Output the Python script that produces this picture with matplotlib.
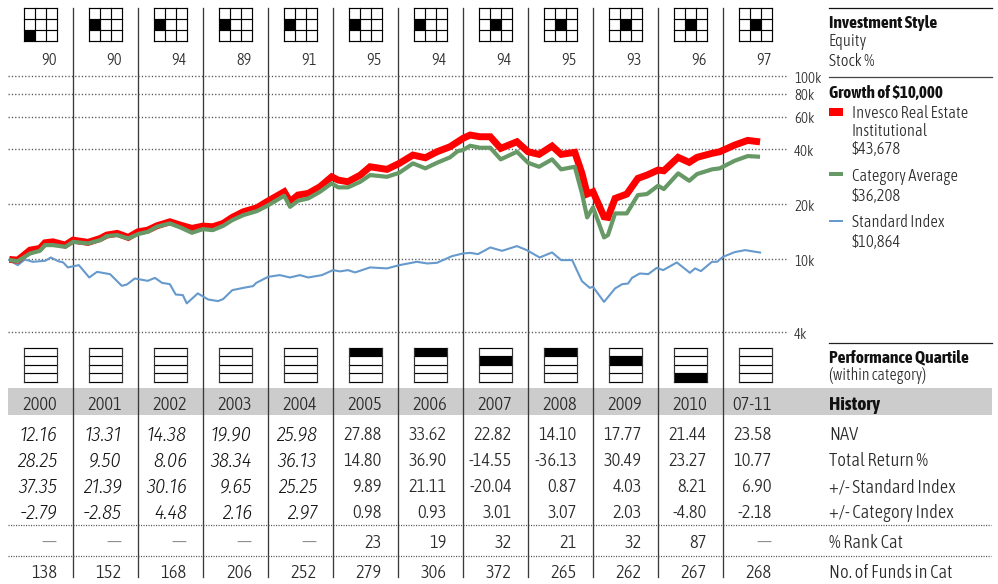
import matplotlib
matplotlib.use('Agg')
import matplotlib.pyplot as plt
from matplotlib.patches import Rectangle
from matplotlib.transforms import ScaledTranslation

plt.rcParams['font.family'] = ['Asap Condensed', 'Liberation Sans', 'DejaVu Sans']

W, H = 998, 584

###############################
### growth of $10,000

fund_dates = [2000.02, 2000.15, 2000.34, 2000.49, 2000.57, 2000.69, 2000.88, 2001.0, 2001.23, 2001.42,
	2001.52, 2001.68, 2001.85, 2002.0, 2002.15, 2002.29, 2002.49, 2002.65, 2002.83, 2003.0,
	2003.15, 2003.31, 2003.45, 2003.62, 2003.83, 2003.98, 2004.25, 2004.34, 2004.46, 2004.62,
	2004.8, 2004.98, 2005.08, 2005.23, 2005.42, 2005.57, 2005.83, 2006.02, 2006.23, 2006.42,
	2006.6, 2006.8, 2006.92, 2007.0, 2007.11, 2007.26, 2007.42, 2007.58, 2007.83, 2008.0,
	2008.17, 2008.37, 2008.51, 2008.72, 2008.83, 2008.91, 2009.0, 2009.17, 2009.23, 2009.34,
	2009.52, 2009.69, 2009.83, 2010.0, 2010.09, 2010.31, 2010.48, 2010.6, 2010.83, 2010.95,
	2011.18, 2011.38, 2011.57]

fund_growth = [9960, 9875, 11200, 11440, 12280, 12430, 11930, 12700, 12340, 12970,
	13530, 13820, 13140, 14100, 14400, 15200, 15990, 15340, 14720, 15150,
	15020, 15670, 16900, 18130, 19070, 20560, 23320, 20560, 22370, 22860,
	24840, 28160, 27020, 26450, 28770, 31940, 30910, 33340, 37000, 35770,
	38580, 41080, 43750, 45660, 47600, 46590, 46590, 40260, 43750, 38580,
	37330, 41440, 37330, 38290, 29400, 22660, 23320, 17030, 16900, 21460,
	22660, 27600, 28770, 30640, 30380, 35950, 33760, 35950, 37810, 38580,
	41970, 44500, 43678]

category_growth = [9875, 9750, 10740, 11100, 11930, 11930, 11670, 12430, 12180, 12700,
	13350, 13530, 12970, 13700, 14100, 15020, 15670, 14900, 13930, 14580,
	14400, 15200, 16330, 17390, 18300, 19480, 22180, 19300, 20820, 21460,
	23320, 25920, 24650, 24650, 26450, 28770, 28160, 29620, 33340, 31310,
	33590, 35950, 38920, 39410, 41600, 40570, 40570, 35060, 38580, 33590,
	31940, 35060, 30910, 31940, 22860, 16900, 19160, 13140, 13530, 17770,
	17770, 22370, 22660, 25150, 24130, 29400, 26780, 29140, 30910, 31310,
	34450, 36540, 36208]

index_dates = [2000.02, 2000.15, 2000.26, 2000.38, 2000.57, 2000.66, 2000.77, 2000.85, 2000.92, 2001.09,
	2001.25, 2001.37, 2001.57, 2001.75, 2001.83, 2001.95, 2002.15, 2002.26, 2002.37, 2002.49,
	2002.58, 2002.69, 2002.75, 2002.92, 2003.08, 2003.23, 2003.31, 2003.45, 2003.65, 2003.77,
	2003.82, 2004.0, 2004.18, 2004.34, 2004.49, 2004.62, 2004.83, 2005.0, 2005.11, 2005.23,
	2005.34, 2005.57, 2005.83, 2006.02, 2006.29, 2006.45, 2006.6, 2006.83, 2007.0, 2007.11,
	2007.23, 2007.42, 2007.6, 2007.83, 2007.98, 2008.18, 2008.37, 2008.51, 2008.68, 2008.83,
	2008.95, 2009.0, 2009.17, 2009.34, 2009.45, 2009.54, 2009.6, 2009.72, 2009.85, 2009.98,
	2010.08, 2010.29, 2010.49, 2010.57, 2010.66, 2010.83, 2010.91, 2011.0, 2011.18, 2011.34,
	2011.57]

index_growth = [9875, 9270, 9960, 9670, 9790, 10210, 9750, 9590, 9010, 9270,
	7940, 8520, 8280, 7150, 7270, 7840, 7610, 7900, 7420, 7300,
	6410, 6360, 5730, 6500, 6020, 5900, 6050, 6770, 7000, 7120,
	7420, 8000, 8180, 7940, 8180, 7940, 8180, 8710, 8570, 8710,
	8460, 9010, 8900, 9270, 9670, 9470, 9550, 10380, 10740, 10820,
	10650, 11580, 11100, 11780, 11200, 10210, 10880, 9875, 9875, 7580,
	6970, 7060, 5840, 6920, 7300, 7360, 7900, 8350, 8280, 8960,
	8710, 9590, 8420, 8900, 8600, 9670, 9670, 10290, 10920, 11200,
	10864]

grid_values = [100000, 80000, 60000, 40000, 20000, 10000, 4000]
grid_labels = ['100k', '80k', '60k', '40k', '20k', '10k', '4k']

###############################
### style box, quartile box and history table

style_cells = [(2, 0), (1, 0), (1, 0), (1, 0), (1, 0), (1, 0), (1, 0), (1, 1), (1, 1), (1, 1), (1, 1), (1, 1)]
stock_pct = ['90', '90', '94', '89', '91', '95', '94', '94', '95', '93', '96', '97']
quartiles = [None, None, None, None, None, 0, 0, 1, 0, 1, 3, None]

years = ['2000', '2001', '2002', '2003', '2004', '2005', '2006', '2007', '2008', '2009', '2010', '07-11']
nav = ['12.16', '13.31', '14.38', '19.90', '25.98', '27.88', '33.62', '22.82', '14.10', '17.77', '21.44', '23.58']
total_return = ['28.25', '9.50', '8.06', '38.34', '36.13', '14.80', '36.90', '-14.55', '-36.13', '30.49', '23.27', '10.77']
vs_standard = ['37.35', '21.39', '30.16', '9.65', '25.25', '9.89', '21.11', '-20.04', '0.87', '4.03', '8.21', '6.90']
vs_category = ['-2.79', '-2.85', '4.48', '2.16', '2.97', '0.98', '0.93', '3.01', '3.07', '2.03', '-4.80', '-2.18']
rank_cat = ['—', '—', '—', '—', '—', '23', '19', '32', '21', '32', '87', '—']
funds_in_cat = ['138', '152', '168', '206', '252', '279', '306', '372', '265', '262', '267', '268']

# rows in the table: values, center y, label, years shown in italics
table_rows = [
	(nav, 433.2, 'NAV', 5),
	(total_return, 459.2, 'Total Return %', 5),
	(vs_standard, 485.2, '+/- Standard Index', 5),
	(vs_category, 511.2, '+/- Category Index', 5),
	(rank_cat, 540.8, '% Rank Cat', 0),
	(funds_in_cat, 570.8, 'No. of Funds in Cat', 0),
]

###############################
### colors and column layout

RED = '#ff0000'
GREEN = '#669966'
BLUE = '#6699cc'
TEXT = '#2a2a2a'
COL_STEP = 65
COL_RIGHT = 57
BOX_LEFT = 24
BOX_SIZE = 33.5
LABEL_X = 829

fig = plt.figure(figsize=(W / 100, H / 100), dpi=100, facecolor='white')

# page axes in pixel units, everything outside the growth plot goes here
page = fig.add_axes([0, 0, 1, 1], zorder=0)
page.set_xlim(0, W)
page.set_ylim(H, 0)
page.axis('off')

def txt(x, y, s, size=13.4, ha='left', **kw):
	kw.setdefault('color', TEXT)
	kw.setdefault('weight', 300)
	page.text(x, y, s, fontsize=size, ha=ha, va='center_baseline', **kw)

def draw_style_box(i):
	left = BOX_LEFT + i * COL_STEP
	top = 7.5
	cell = BOX_SIZE / 3
	row, col = style_cells[i]
	page.add_patch(Rectangle((left + col * cell, top + row * cell), cell, cell, fc='black', ec='none'))
	for k in range(4):
		page.plot([left, left + BOX_SIZE], [top + k * cell] * 2, color='black', lw=0.85, solid_capstyle='projecting')
		page.plot([left + k * cell] * 2, [top, top + BOX_SIZE], color='black', lw=0.85, solid_capstyle='projecting')

def draw_quartile_box(i):
	left = BOX_LEFT + i * COL_STEP
	top = 348
	cell = BOX_SIZE / 4
	if quartiles[i] is not None:
		page.add_patch(Rectangle((left, top + quartiles[i] * cell), BOX_SIZE, cell, fc='black', ec='none'))
	for k in range(5):
		page.plot([left, left + BOX_SIZE], [top + k * cell] * 2, color='black', lw=0.85, solid_capstyle='projecting')
	for x in [left, left + BOX_SIZE]:
		page.plot([x, x], [top, top + BOX_SIZE], color='#333333', lw=0.85)

# history band and the year dividers
page.add_patch(Rectangle((8, 388.3), 984, 26.7, fc='#cccccc', ec='none', zorder=0))
for i in range(1, 12):
	x = 8 + i * COL_STEP
	page.plot([x, x], [8, 577], color='#3a3a3a', lw=0.95, zorder=1)

for i in range(12):
	right = COL_RIGHT + i * COL_STEP
	draw_style_box(i)
	draw_quartile_box(i)
	txt(right, 58.3, stock_pct[i], size=11.8, ha='right')
	txt(right, 402.8, years[i], ha='right')
	for values, y, label, italic_upto in table_rows:
		color = '#888888' if values[i] == '—' else TEXT
		if i < italic_upto:
			# light italic comes from another condensed family
			txt(right, y, values[i], size=14.6, ha='right', style='italic', color='#111111', weight=300,
				family=['Fira Sans Condensed', 'Liberation Sans'])
		else:
			txt(right, y, values[i], ha='right', color=color)

for y in [525, 555.7]:
	page.plot([8, 991], [y, y], color='#555555', lw=0.9, dashes=(0.9, 1.1))

###############################
### right hand column

for y, color in [(7.5, '#111111'), (77, '#444444'), (342.5, '#222222')]:
	page.plot([829, 992], [y, y], color=color, lw=0.9)

txt(LABEL_X, 21.3, 'Investment Style', size=12.6, weight='bold', color='#111111')
txt(LABEL_X, 39.5, 'Equity', size=12)
txt(LABEL_X, 59, 'Stock %', size=12)

txt(LABEL_X, 91, 'Growth of $10,000', size=12.4, weight='bold', color='#111111')
page.add_patch(Rectangle((829, 107.5), 14.5, 8, fc=RED, ec='none'))
txt(852, 111, 'Invesco Real Estate', size=12)
txt(852, 129.5, 'Institutional', size=12)
txt(852, 147.5, '$43,678', size=12)
page.add_patch(Rectangle((829, 172), 14.5, 4, fc=GREEN, ec='none'))
txt(852, 174.5, 'Category Average', size=12)
txt(852, 194.5, '$36,208', size=12)
page.add_patch(Rectangle((829, 220), 14.5, 2, fc=BLUE, ec='none'))
txt(852, 220.5, 'Standard Index', size=12)
txt(852, 240.5, '$10,864', size=12)

txt(LABEL_X, 356.5, 'Performance Quartile', size=12.6, weight='bold', color='#111111')
txt(LABEL_X, 373.5, '(within category)', size=11.4)
txt(LABEL_X, 403, 'History', size=14, weight='bold', color='#111111')
for values, y, label, italic_upto in table_rows:
	txt(LABEL_X, y, label)

###############################
### growth plot, log scale, spans 100k down to 4k

plot_left, plot_right = 8, 787
plot_top, plot_bottom = 76, 332
ax = fig.add_axes([plot_left / W, 1 - plot_bottom / H, (plot_right - plot_left) / W, (plot_bottom - plot_top) / H], zorder=1)
ax.patch.set_alpha(0)
ax.set_yscale('log')
ax.set_xlim(2000, 2000 + (plot_right - plot_left) / COL_STEP)
ax.set_ylim(4000, 100000)
for side in ax.spines.values():
	side.set_visible(False)
ax.set_xticks([])
ax.minorticks_off()
ax.yaxis.tick_right()
ax.set_yticks(grid_values)
ax.set_yticklabels(grid_labels, fontsize=10.6, color=TEXT, weight=300)
ax.tick_params(axis='y', length=0, pad=5, which='both')
ax.yaxis.set_tick_params(which='minor', length=0, labelright=False)
ax.grid(True, axis='y', color='#555555', lw=1, dashes=(0.9, 1.5), clip_on=False)
ax.set_axisbelow(True)

# tick labels sit a pixel under their grid line
nudge = ScaledTranslation(0, -1.2 / fig.dpi, fig.dpi_scale_trans)
for lbl in ax.get_yticklabels():
	lbl.set_transform(lbl.get_transform() + nudge)

ax.plot(index_dates, index_growth, color=BLUE, lw=1.5, solid_joinstyle='round', clip_on=False)
ax.plot(fund_dates, fund_growth, color=RED, lw=5, solid_joinstyle='miter', solid_capstyle='butt', clip_on=False)
ax.plot(fund_dates, category_growth, color=GREEN, lw=3, solid_joinstyle='round', solid_capstyle='butt', clip_on=False)

fig.savefig('out.png', dpi=100)
